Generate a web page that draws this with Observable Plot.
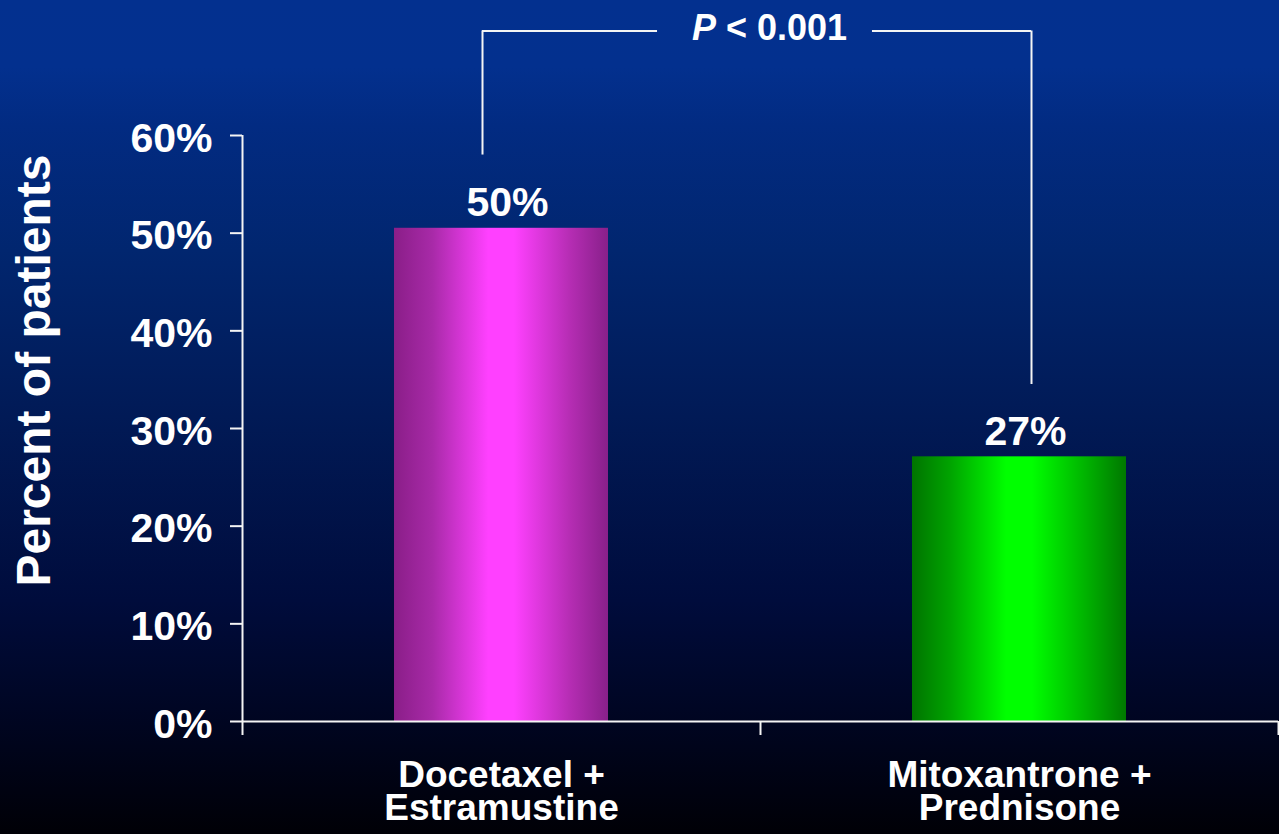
<!DOCTYPE html>
<html>
<head>
<meta charset="utf-8">
<script src="https://cdn.jsdelivr.net/npm/d3@7"></script>
<script src="https://cdn.jsdelivr.net/npm/@observablehq/plot@0.6"></script>
<style>
  html, body { margin: 0; padding: 0; background: #000; }
  #chart { width: 1279px; height: 834px; }
</style>
</head>
<body>
<div id="chart"></div>
<script>
// ---- data ----
const categories = ["Docetaxel +\nEstramustine", "Mitoxantrone +\nPrednisone"];
const values = [0.505, 0.271];
const valueLabels = ["50%", "27%"];
const yTicks = [0, 0.1, 0.2, 0.3, 0.4, 0.5, 0.6];
const yLabel = "Percent of patients";
const pItalic = "P";
const pRest = " < 0.001";
const bracketTop = 0.707;          // level of the significance bracket
const bracketEnds = [0.58, 0.345]; // lower ends of the bracket legs

// ---- layout / style ----
const W = 1279, H = 834;
const mLeft = 242, mRight = 1, mTop = 135, mBottom = 113;
const padInner = 0.587, padOuter = padInner / 2;
const step = (W - mLeft - mRight) / categories.length; // band step (padOuter = padInner/2)
const bandW = step * (1 - padInner);
const bandEndA = mLeft + padOuter * step + bandW;
const bandStartB = mLeft + step + padOuter * step;
const legLeft = -19, legRight = 12;   // bracket legs offset from bar centres
const pDx = 9;                        // P-value label offset from frame centre
const pCenter = mLeft + step + pDx;
const gapL = 112, gapR = 103;         // bracket gap around the P-value label
const font = "'Liberation Sans', Arial, Helvetica, sans-serif";
const lineColor = "#f4f4f4";

const data = categories.map((c, i) => ({cat: c, value: values[i], label: valueLabels[i]}));
const lineStyle = {stroke: lineColor, strokeWidth: 2};

const plot = Plot.plot({
  width: W, height: H,
  marginLeft: mLeft, marginRight: mRight, marginTop: mTop, marginBottom: mBottom,
  style: {
    background: "linear-gradient(to bottom, #03308f 0%, #03308e 8%, #022b82 15%, #01266f 30%, #011a56 50%, #000c3c 72%, #000520 87%, #000006 100%)",
    color: "white",
    fontFamily: font,
    fontWeight: "bold",
    overflow: "visible"
  },
  x: {type: "band", domain: categories, paddingInner: padInner, paddingOuter: padOuter, axis: null},
  y: {domain: [0, d3.max(yTicks)], axis: null},
  color: {domain: categories, range: ["url(#gradA)", "url(#gradB)"]},
  marks: [
    // bars
    Plot.barY(data, {x: "cat", y: "value", fill: "cat"}),
    // x axis baseline
    Plot.ruleY([0], lineStyle),
    // y axis line
    Plot.ruleX([categories[0]], {x: d => d, y1: d3.max(yTicks), y2: 0, dx: -step / 2, ...lineStyle}),
    // category boundary ticks below the axis
    Plot.ruleX(categories, {x: d => d, y1: 0, y2: 0, insetBottom: -14, dx: -step / 2, ...lineStyle}),
    Plot.ruleX([categories[categories.length - 1]], {x: d => d, y1: 0, y2: 0, insetBottom: -14, dx: step / 2, ...lineStyle}),
    // y axis ticks and labels
    Plot.axisY(yTicks, {tickSize: 12, fill: "none", ...lineStyle, label: null}),
    Plot.axisY(yTicks, {tickSize: 12, tickPadding: 18, stroke: "none", fill: "white", fontSize: 41, fontWeight: "bold",
      tickFormat: d3.format(".0%"), dy: 3, label: null}),
    // value labels
    Plot.text(data, {x: "cat", y: "value", text: "label", lineAnchor: "bottom", dy: -12, dx: 6,
      fontSize: 41, fontWeight: "bold", fill: "white"}),
    // category labels
    Plot.text(data, {x: "cat", text: "cat", frameAnchor: "bottom", lineAnchor: "top", dy: 42, dx: 0,
      fontSize: 37, lineHeight: 0.89, fontWeight: "bold", fill: "white"}),
    // y axis title
    Plot.text([yLabel], {text: d => d, frameAnchor: "left", textAnchor: "middle", lineAnchor: "middle",
      rotate: -90, dx: -208, dy: -58, fontSize: 48, fontWeight: "bold", fill: "white"}),
    // significance bracket: horizontal pieces either side of the P value
    Plot.ruleY([bracketTop], {y: d => d, x1: () => categories[0], x2: () => categories[0],
      insetLeft: bandW / 2 + legLeft, insetRight: bandEndA - (pCenter - gapL), ...lineStyle}),
    Plot.ruleY([bracketTop], {y: d => d, x1: () => categories[1], x2: () => categories[1],
      insetLeft: (pCenter + gapR) - bandStartB, insetRight: bandW / 2 - legRight, ...lineStyle}),
    // bracket legs
    Plot.ruleX([categories[0]], {x: d => d, y1: () => bracketEnds[0], y2: () => bracketTop, dx: legLeft, ...lineStyle}),
    Plot.ruleX([categories[1]], {x: d => d, y1: () => bracketEnds[1], y2: () => bracketTop, dx: legRight, ...lineStyle}),
    // P value label
    Plot.text([pItalic + pRest], {y: () => bracketTop, text: d => d, dx: pDx, dy: -3, lineAnchor: "middle",
      fontSize: 36, fontWeight: "bold", fill: "white"})
  ]
});

// italic "P" inside the P-value label
d3.select(plot).selectAll("text")
  .filter(function () { return this.textContent === pItalic + pRest && !this.querySelector("tspan"); })
  .each(function () {
    const t = d3.select(this);
    t.text(null);
    t.append("tspan").attr("font-style", "italic").text(pItalic);
    t.append("tspan").text(pRest);
  });

// horizontal shading gradients for the bars
const defs = d3.select(plot).insert("defs", ":first-child");
function addGrad(id, stops) {
  const g = defs.append("linearGradient").attr("id", id).attr("x1", 0).attr("x2", 1).attr("y1", 0).attr("y2", 0);
  stops.forEach(([o, c]) => g.append("stop").attr("offset", o).attr("stop-color", c));
}
addGrad("gradA", [[0, "#8a1e88"], [0.18, "#a82aa8"], [0.44, "#ff40ff"], [0.56, "#ff40ff"], [0.82, "#b62db4"], [1, "#88208a"]]);
addGrad("gradB", [[0, "#007400"], [0.18, "#00a400"], [0.44, "#00ff00"], [0.56, "#00ff00"], [0.82, "#00b000"], [1, "#007800"]]);

document.getElementById("chart").appendChild(plot);
</script>
</body>
</html>
